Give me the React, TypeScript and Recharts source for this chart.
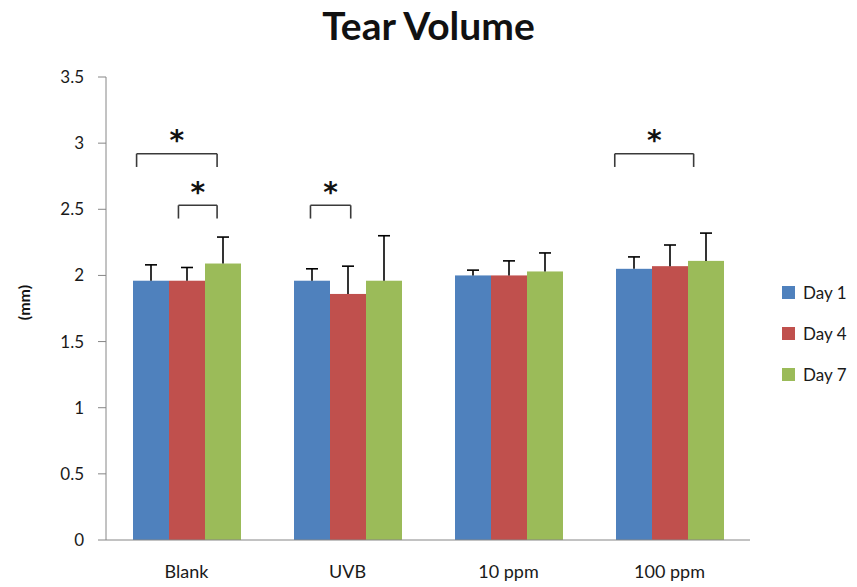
import React from "react"
import {
  BarChart,
  Bar,
  XAxis,
  YAxis,
  Legend,
  ReferenceLine,
  ReferenceDot,
} from "recharts"

const groups = ["Blank", "UVB", "10 ppm", "100 ppm"]
const slots = [0.5, 1.5, 2.5, 3.5]
const day1 = [1.96, 1.96, 2.0, 2.05]
const day4 = [1.96, 1.86, 2.0, 2.07]
const day7 = [2.09, 1.96, 2.03, 2.11]
const err1 = [0.12, 0.09, 0.04, 0.09]
const err4 = [0.1, 0.21, 0.11, 0.16]
const err7 = [0.2, 0.34, 0.14, 0.21]
const yTicks = [0, 0.5, 1, 1.5, 2, 2.5, 3, 3.5]

// significance brackets, x in group units (0..4) on a hidden numeric axis
const bracketFrom = [0.19, 0.45, 1.27, 3.16]
const bracketTo = [0.69, 0.69, 1.52, 3.65]
const bracketTop = [2.92, 2.53, 2.53, 2.92]
const bracketDrop = 0.1

const series = [
  { key: "d1", err: "e1", name: "Day 1", color: "#4F81BD" },
  { key: "d4", err: "e4", name: "Day 4", color: "#C0504D" },
  { key: "d7", err: "e7", name: "Day 7", color: "#9BBB59" },
]

const data = groups.map((g, i) => ({
  group: g,
  slot: slots[i],
  d1: day1[i],
  d4: day4[i],
  d7: day7[i],
  e1: err1[i],
  e4: err4[i],
  e7: err7[i],
}))

const FONT = "Lato, 'Open Sans', sans-serif"

// bar + upward-only error whisker, scaled off the bar's own height
function barWithError(errKey: string) {
  return (props: any) => {
    const { x, y, width, height, fill, payload, value } = props
    const v = Array.isArray(value) ? value[1] - value[0] : value
    const perUnit = v ? height / v : 0
    const e = payload[errKey] * perUnit
    const cx = x + width / 2
    return (
      <g>
        <rect x={x} y={y} width={width} height={height} fill={fill} />
        <line x1={cx} x2={cx} y1={y} y2={y - e} stroke="#000" strokeWidth={1.6} />
        <line x1={cx - 6} x2={cx + 6} y1={y - e} y2={y - e} stroke="#000" strokeWidth={1.6} />
      </g>
    )
  }
}

function LegendBox() {
  return (
    <div style={{ fontFamily: FONT, fontSize: 17, color: "#1a1a1a" }}>
      {series.map((s) => (
        <div key={s.key} style={{ display: "flex", alignItems: "center", height: 41 }}>
          <span
            style={{ width: 13, height: 13, background: s.color, display: "inline-block", marginRight: 8 }}
          />
          {s.name}
        </div>
      ))}
    </div>
  )
}

function Star(props: any) {
  return (
    <text
      x={props.cx}
      y={props.cy}
      textAnchor="middle"
      dominantBaseline="central"
      fontFamily="'DejaVu Sans', sans-serif"
      fontWeight="bold"
      fontSize={28}
      fill="#111"
    >
      *
    </text>
  )
}

export default function App() {
  return (
    <div style={{ position: "absolute", left: 0, top: 0, width: 857, height: 587, background: "#fff" }}>
      <div
        style={{
          position: "absolute",
          top: 2,
          left: 0,
          width: 857,
          textAlign: "center",
          fontFamily: FONT,
          fontWeight: "bold",
          fontSize: 39,
          color: "#111",
        }}
      >
        Tear Volume
      </div>
      <BarChart
        width={857}
        height={587}
        data={data}
        margin={{ top: 77, right: 32, bottom: 0, left: 0 }}
        barGap={0}
        barCategoryGap={27}
      >
        <XAxis
          dataKey="group"
          height={47}
          stroke="#868686"
          tickLine={false}
          tickSize={0}
          tickMargin={25}
          tick={{ fontFamily: FONT, fontSize: 18, fill: "#1a1a1a" }}
        />
        <XAxis xAxisId="n" dataKey="slot" type="number" domain={[0, 4]} allowDataOverflow hide />
        <YAxis
          width={106}
          domain={[0, 3.5]}
          ticks={yTicks}
          stroke="#868686"
          tickSize={8}
          tickMargin={14}
          tick={{ fontFamily: FONT, fontSize: 17, fill: "#1a1a1a" }}
          label={{
            content: (p: any) => (
              <text
                transform={`translate(${p.viewBox.x + 23}, ${p.viewBox.y + p.viewBox.height / 2 - 6}) rotate(-90)`}
                textAnchor="middle"
                dominantBaseline="central"
                fontFamily={FONT}
                fontWeight="bold"
                fontSize={16}
                fill="#111"
              >
                (mm)
              </text>
            ),
          }}
        />
        <Legend
          layout="vertical"
          align="right"
          verticalAlign="middle"
          content={() => <LegendBox />}
          wrapperStyle={{ left: 782, top: 272, width: 75 }}
        />
        {series.map((s) => (
          <Bar
            key={s.key}
            dataKey={s.key}
            name={s.name}
            fill={s.color}
            shape={barWithError(s.err)}
            isAnimationActive={false}
          />
        ))}
        {bracketFrom.map((x1, i) => {
          const x2 = bracketTo[i]
          const y = bracketTop[i]
          const line = { xAxisId: "n", stroke: "#3a3a3a", strokeWidth: 1.6 }
          return (
            <React.Fragment key={i}>
              <ReferenceLine {...line} segment={[{ x: x1, y }, { x: x2, y }]} />
              <ReferenceLine {...line} segment={[{ x: x1, y }, { x: x1, y: y - bracketDrop }]} />
              <ReferenceLine {...line} segment={[{ x: x2, y }, { x: x2, y: y - bracketDrop }]} />
              <ReferenceDot xAxisId="n" x={(x1 + x2) / 2} y={y + 0.1} r={0} shape={Star} />
            </React.Fragment>
          )
        })}
      </BarChart>
    </div>
  )
}
